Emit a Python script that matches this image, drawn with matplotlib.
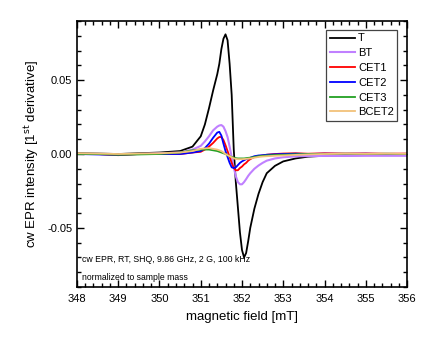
import matplotlib
matplotlib.use('Agg')
import matplotlib.pyplot as plt
from matplotlib.ticker import MultipleLocator

plt.rcParams['font.family'] = ['Liberation Sans', 'DejaVu Sans']

# magnetic field (mT) and 1st derivative signals
field = [348.0, 348.5, 349.0, 349.5, 350.0, 350.5, 350.8, 351.0, 351.1, 351.2,
         351.3, 351.4, 351.45, 351.5, 351.55, 351.6, 351.65, 351.7, 351.75, 351.8,
         351.85, 351.9, 351.95, 352.0, 352.05, 352.1, 352.15, 352.2, 352.3, 352.4,
         352.5, 352.6, 352.8, 353.0, 353.3, 353.6, 354.0, 354.5, 355.0, 355.5, 356.0]

T = [0.0005, 0.0003, 0.0, 0.0005, 0.001, 0.002, 0.005, 0.012, 0.02, 0.031,
     0.043, 0.054, 0.061, 0.071, 0.078, 0.081, 0.077, 0.061, 0.040, 0.003,
     -0.019, -0.036, -0.053, -0.065, -0.070, -0.067, -0.059, -0.050, -0.037, -0.027,
     -0.019, -0.013, -0.008, -0.005, -0.003, -0.0018, -0.0012, -0.001, -0.0008, -0.0008, -0.0008]

BT = [0.0, 0.0, -0.0005, 0.0, 0.0005, 0.001, 0.003, 0.0055, 0.0085, 0.012,
      0.016, 0.0185, 0.0193, 0.0196, 0.0185, 0.0155, 0.0115, 0.005, -0.002, -0.009,
      -0.015, -0.019, -0.0205, -0.0205, -0.019, -0.017, -0.0148, -0.013, -0.010, -0.0078,
      -0.006, -0.0045, -0.003, -0.0022, -0.0016, -0.0014, -0.0013, -0.0013, -0.0012, -0.0012, -0.0012]

CET1 = [0.0, 0.0, -0.0008, 0.0, 0.0, 0.0, 0.001, 0.0015, 0.003, 0.005,
        0.0075, 0.0105, 0.0115, 0.0115, 0.0095, 0.006, 0.002, -0.002, -0.006, -0.0095,
        -0.011, -0.011, -0.0095, -0.0085, -0.007, -0.006, -0.0045, -0.0035, -0.002, -0.0015,
        -0.001, -0.0005, 0.0, 0.0003, 0.0005, 0.0002, 0.0005, 0.0003, 0.0004, 0.0002, 0.0003]

CET2 = [0.0, -0.0003, -0.0005, 0.0, 0.0, 0.0, 0.001, 0.002, 0.004, 0.007,
        0.011, 0.0145, 0.015, 0.0125, 0.007, 0.002, -0.002, -0.006, -0.009, -0.0095,
        -0.009, -0.0075, -0.006, -0.005, -0.0042, -0.0035, -0.003, -0.0025, -0.0015, -0.001,
        -0.0008, -0.0005, -0.0002, 0.0, 0.0002, 0.0, 0.0002, 0.0001, 0.0002, 0.0, 0.0001]

CET3 = [0.0, 0.0, -0.0005, -0.0003, 0.0, 0.001, 0.0025, 0.003, 0.003, 0.003,
        0.0025, 0.002, 0.0015, 0.001, 0.0005, 0.0, -0.0008, -0.0015, -0.002, -0.0025,
        -0.0028, -0.003, -0.003, -0.003, -0.003, -0.0028, -0.0026, -0.0025, -0.002, -0.0015,
        -0.0012, -0.001, -0.0007, -0.0005, -0.0002, 0.0, 0.0, 0.0002, 0.0, 0.0002, 0.0]

BCET2 = [0.0005, 0.0003, 0.0, 0.0003, 0.0005, 0.001, 0.002, 0.0035, 0.0038, 0.004,
         0.0035, 0.003, 0.0025, 0.002, 0.001, 0.0, -0.0008, -0.0015, -0.0022, -0.003,
         -0.0033, -0.0035, -0.0035, -0.0035, -0.0034, -0.0033, -0.0031, -0.003, -0.0025, -0.002,
         -0.0017, -0.0015, -0.0012, -0.001, -0.0006, -0.0003, 0.0, 0.0002, 0.0001, 0.0002, 0.0001]

series = [('T', T, 'black', 1.3),
          ('BT', BT, '#c080ff', 1.5),
          ('CET1', CET1, '#ff0000', 1.3),
          ('CET2', CET2, '#0000ff', 1.3),
          ('CET3', CET3, '#22a022', 1.3),
          ('BCET2', BCET2, '#f2c27a', 1.3)]

fig = plt.figure(figsize=(4.36, 3.39), dpi=100)
ax = fig.add_axes([0.1766, 0.1534, 0.7569, 0.7846])

for name, vals, col, lw in series:
    ax.plot(field, vals, color=col, lw=lw, label=name)

ax.set_xlim(348, 356)
ax.set_ylim(-0.09, 0.09)
ax.xaxis.set_major_locator(MultipleLocator(1))
ax.xaxis.set_minor_locator(MultipleLocator(0.2))
ax.yaxis.set_major_locator(MultipleLocator(0.05))
ax.yaxis.set_minor_locator(MultipleLocator(0.01))
ax.yaxis.set_major_formatter(matplotlib.ticker.FormatStrFormatter('%.2f'))
ax.tick_params(which='both', direction='in', top=True, right=True, labelsize=8, width=1)
ax.tick_params(which='major', length=5)
ax.tick_params(which='minor', length=3)
ax.tick_params(axis='x', pad=5)
for s in ax.spines.values():
    s.set_linewidth(1.2)

ax.set_xlabel('magnetic field [mT]', fontsize=9.5, labelpad=5)
ax.set_ylabel('cw EPR intensity [1$^{\\rm st}$ derivative]', fontsize=9.5, labelpad=4)

ax.text(0.015, 0.085, 'cw EPR, RT, SHQ, 9.86 GHz, 2 G, 100 kHz', transform=ax.transAxes,
        fontsize=6.3, va='bottom')
ax.text(0.015, 0.035, 'normalized to sample mass', transform=ax.transAxes,
        fontsize=6.2, va='center')

leg = ax.legend(loc='upper right', bbox_to_anchor=(0.97, 0.966), fontsize=8,
                fancybox=False, framealpha=1, edgecolor='#444444',
                handlelength=2.3, handletextpad=0.25, labelspacing=0.43,
                borderpad=0.3, borderaxespad=0)
leg.get_frame().set_linewidth(0.9)

plt.savefig('out.png', dpi=100)
